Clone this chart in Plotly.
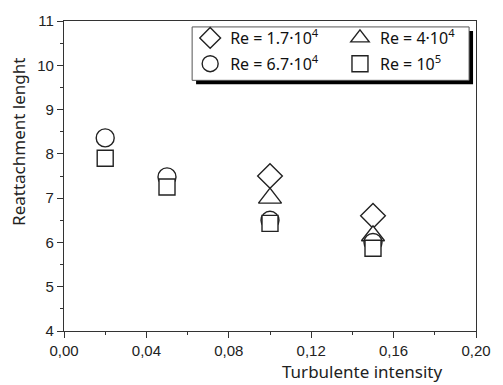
import plotly.graph_objects as go

# Reattachment length vs. turbulence intensity for four Reynolds numbers
ti_a = [0.10, 0.15]
re17_len = [7.50, 6.60]

ti_b = [0.10, 0.15]
re40_len = [7.00, 6.15]

ti_c = [0.02, 0.05, 0.10, 0.15]
re67_len = [8.36, 7.48, 6.50, 6.00]

ti_d = [0.02, 0.05, 0.10, 0.15]
re100_len = [7.90, 7.25, 6.43, 5.87]

# (label, x, y, symbol, size, legend column)
series = [
    ("Re = 1.7·10<sup>4</sup>", ti_a, re17_len, "diamond", 19, "legend"),
    ("Re = 4·10<sup>4</sup>", ti_b, re40_len, "triangle-up", 20, "legend2"),
    ("Re = 6.7·10<sup>4</sup>", ti_c, re67_len, "circle", 18, "legend"),
    ("Re = 10<sup>5</sup>", ti_d, re100_len, "square", 16, "legend2"),
]

x_ticks = [0.00, 0.04, 0.08, 0.12, 0.16, 0.20]
y_ticks = [4, 5, 6, 7, 8, 9, 10, 11]

fig = go.Figure()
for i, (name, xs, ys, sym, sz, leg) in enumerate(series):
    fig.add_trace(go.Scatter(
        x=xs, y=ys, mode="markers", name=name, legend=leg,
        legendgroup=f"g{i}",
        marker=dict(symbol=sym, size=sz, color="white",
                    line=dict(color="#222222", width=1.4)),
    ))

title_font = dict(family="Noto Sans", size=17, color="#222222")
tick_font = dict(family="Liberation Sans", size=15, color="#222222")
legend_font = dict(family="Noto Sans", size=16, color="#111111")

axis_common = dict(
    showgrid=False, zeroline=False, showline=True, linecolor="#333333",
    linewidth=1.3, mirror=True, ticks="outside", ticklen=6, tickwidth=1.2,
    tickcolor="#333333", tickfont=tick_font,
)

PW, PH = 418, 313.5  # plot area size in px


def px_x(px):
    return (px - 64) / PW


def px_y(py):
    return 1 - (py - 17) / PH


legend_common = dict(
    orientation="v", xanchor="left", yanchor="top",
    bgcolor="rgba(0,0,0,0)", borderwidth=0, font=legend_font,
    tracegroupgap=2,
)

fig.update_layout(
    width=503, height=385,
    margin=dict(l=64, r=21, t=17, b=54),
    paper_bgcolor="white", plot_bgcolor="white",
    separators=",.",
    showlegend=True,
    legend=dict(x=px_x(192), y=px_y(17), **legend_common),
    legend2=dict(x=px_x(344), y=px_y(17), **legend_common),
    xaxis=dict(
        range=[0, 0.20], tickvals=x_ticks, tickformat=".2f",
        minor=dict(dtick=0.02, ticks="outside", ticklen=3, tickcolor="#333333"),
        **axis_common,
    ),
    yaxis=dict(
        range=[4, 11], tickvals=y_ticks,
        minor=dict(dtick=0.5, ticks="outside", ticklen=3, tickcolor="#333333"),
        **axis_common,
    ),
    annotations=[
        dict(text="Turbulente intensity", xref="paper", yref="paper",
             x=0.724, y=-0.13, xanchor="center", yanchor="middle",
             showarrow=False, font=title_font),
        dict(text="Reattachment lenght", xref="paper", yref="paper",
             x=-0.11, y=0.609, xanchor="center", yanchor="middle",
             textangle=-90, showarrow=False, font=title_font),
    ],
    shapes=[
        # drop shadow behind the legend box
        dict(type="rect", xref="paper", yref="paper",
             x0=px_x(198), x1=px_x(479), y0=px_y(81), y1=px_y(27),
             fillcolor="black", line=dict(width=0), layer="above"),
        # legend box
        dict(type="rect", xref="paper", yref="paper",
             x0=px_x(194), x1=px_x(475), y0=px_y(77), y1=px_y(23),
             fillcolor="white", line=dict(color="#555555", width=1),
             layer="above"),
    ],
)

fig.write_html("out.html")
